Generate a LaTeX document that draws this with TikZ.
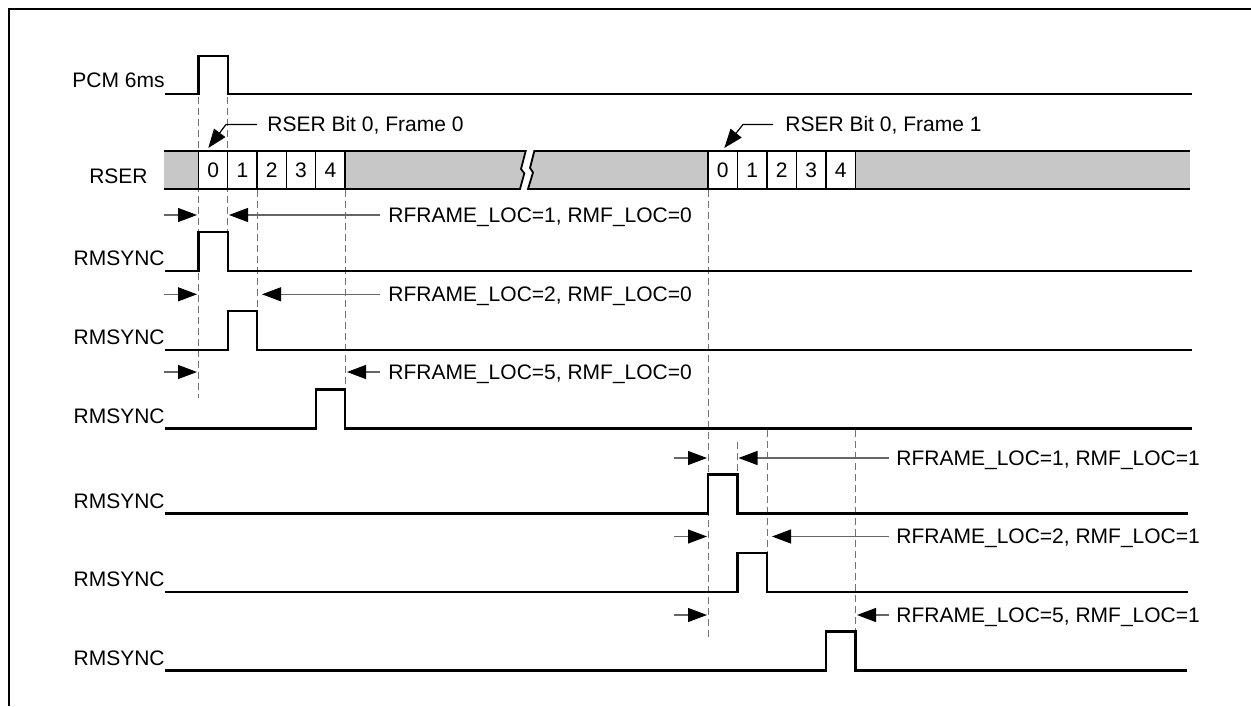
\documentclass[tikz,border=0pt]{standalone}
\usepackage{fontspec}
\setmainfont{Liberation Sans}
\usetikzlibrary{arrows.meta}
\begin{document}
\begin{tikzpicture}[x=0.5pt,y=-0.5pt,
  sig/.style={line width=1.1pt, line join=miter},
  guide/.style={draw=black!55, line width=0.5pt, dash pattern=on 3.5pt off 2pt},
  dimarrow/.style={draw=black!60, line width=0.55pt, -{Triangle[length=9.5pt,width=7pt,color=black]}},
  callout/.style={draw=black, line width=0.6pt, -{Triangle[length=9.5pt,width=7pt]}},
  lbl/.style={inner sep=0pt, font=\fontsize{10.5pt}{12pt}\selectfont},
  bandline/.style={line width=0.9pt},
  stip/.style={fill=black!22},
  cell/.style={draw, line width=0.7pt, fill=white, inner sep=0pt, minimum width=14.7pt, minimum height=19pt, font=\fontsize{10.5pt}{12pt}\selectfont}]
\useasboundingbox (0,0) rectangle (1251,706);
% frame
\draw[line width=1pt] (9,706) -- (9,9) -- (1251,9);

% guide lines
\draw[guide] (198.5,97) -- (198.5,398);
\draw[guide] (227.8,97) -- (227.8,232);
\draw[guide] (257.1,190) -- (257.1,311);
\draw[guide] (345,190) -- (345,390);
\draw[guide] (708,190) -- (708,640);
\draw[guide] (737.5,442) -- (737.5,474.5);
\draw[guide] (767,430) -- (767,553);
\draw[guide] (855.5,430) -- (855.5,631.5);

% PCM 6ms
\node[lbl, anchor=base east] (lpcm) at (165,88) {PCM 6ms};
\draw[sig] (165,94) -- (198.5,94) -- (198.5,56) -- (227.8,56) -- (227.8,94) -- (1192,94);

% RSER band
\node[lbl, anchor=base east] (lrser) at (148,183) {RSER};
\fill[stip] (164,151) rectangle (198.5,189);
\draw[bandline] (164,151) -- (198.5,151) (164,189) -- (198.5,189);
\fill[stip] (345,151) -- (525.7,151) -- (521,169) -- (524.3,173.3) -- (520,189) -- (345,189) -- cycle;
\draw[bandline] (345,151) -- (525.7,151) -- (521,169) -- (524.3,173.3) -- (520,189) -- (345,189);
\fill[stip] (708,151) -- (534.3,151) -- (530,168) -- (533,172.5) -- (528,189) -- (708,189) -- cycle;
\draw[bandline] (708,151) -- (534.3,151) -- (530,168) -- (533,172.5) -- (528,189) -- (708,189);
\fill[stip] (855.5,151) rectangle (1190,189);
\draw[bandline] (855.5,151) -- (1190,151) (855.5,189) -- (1190,189);
\foreach \i/\x in {0/198.5,1/227.8,2/257.1,3/286.4,4/315.7}
  \node[cell] (fa\i) at ({\x+14.65},170) {\i};
\foreach \i/\x in {0/708,1/737.5,2/767,3/796.5,4/826}
  \node[cell] (fb\i) at ({\x+14.75},170) {\i};
\draw[bandline] (198.5,151) -- (345,151) (198.5,189) -- (345,189);
\draw[bandline] (708,151) -- (855.5,151) (708,189) -- (855.5,189);

% callouts
\node[lbl, anchor=base west] (cap0) at (267,131) {RSER Bit 0, Frame 0};
\coordinate (k0) at (257,124.5);
\coordinate (k0b) at (226,124.5);
\coordinate (k0t) at (208.3,148);
\draw[callout] (k0) -- (k0b) -- (k0t);
\node[lbl, anchor=base west] (cap1) at (785,131) {RSER Bit 0, Frame 1};
\coordinate (k1) at (773,124.5);
\coordinate (k1b) at (743,124.5);
\coordinate (k1t) at (724.3,148);
\draw[callout] (k1) -- (k1b) -- (k1t);

% RMSYNC rows
\foreach \n/\base/\pa/\pb/\e in {1/271/198.5/227.8/1192, 2/350/227.8/257.1/1192, 3/428.5/315.7/345/1192,
                                4/513.5/708/737.5/1188, 5/592/737.5/767/1188, 6/670.5/826/855.5/1187}{
  \node[lbl, anchor=base east] (lr\n) at (165,{\base-5.5}) {RMSYNC};
  \draw[sig] (165,\base) -- (\pa,\base) -- (\pa,{\base-39}) -- (\pb,{\base-39}) -- (\pb,\base) -- (\e,\base);
}

% measurement arrows and labels
\foreach \n/\y/\la/\lb/\rt/\rs/\tx/\txt in {
   1/215/164/197/229/380/388/{RFRAME\_LOC=1, RMF\_LOC=0},
   2/294.3/164/197/262/380/388/{RFRAME\_LOC=2, RMF\_LOC=0},
   3/372/164/197/347/380/388/{RFRAME\_LOC=5, RMF\_LOC=0},
   4/458/674/707/738.5/889/896/{RFRAME\_LOC=1, RMF\_LOC=1},
   5/536.5/674/707/772/889/896/{RFRAME\_LOC=2, RMF\_LOC=1},
   6/615/674/707/857/889/896/{RFRAME\_LOC=5, RMF\_LOC=1}}{
  \coordinate (al\n) at (\la,\y);
  \coordinate (alt\n) at (\lb,\y);
  \coordinate (ar\n) at (\rs,\y);
  \coordinate (art\n) at (\rt,\y);
  \draw[dimarrow] (al\n) -- (alt\n);
  \draw[dimarrow] (ar\n) -- (art\n);
  \node[lbl, anchor=base west] (t\n) at (\tx,{\y+7}) {\txt};
}
\end{tikzpicture}
\end{document}
